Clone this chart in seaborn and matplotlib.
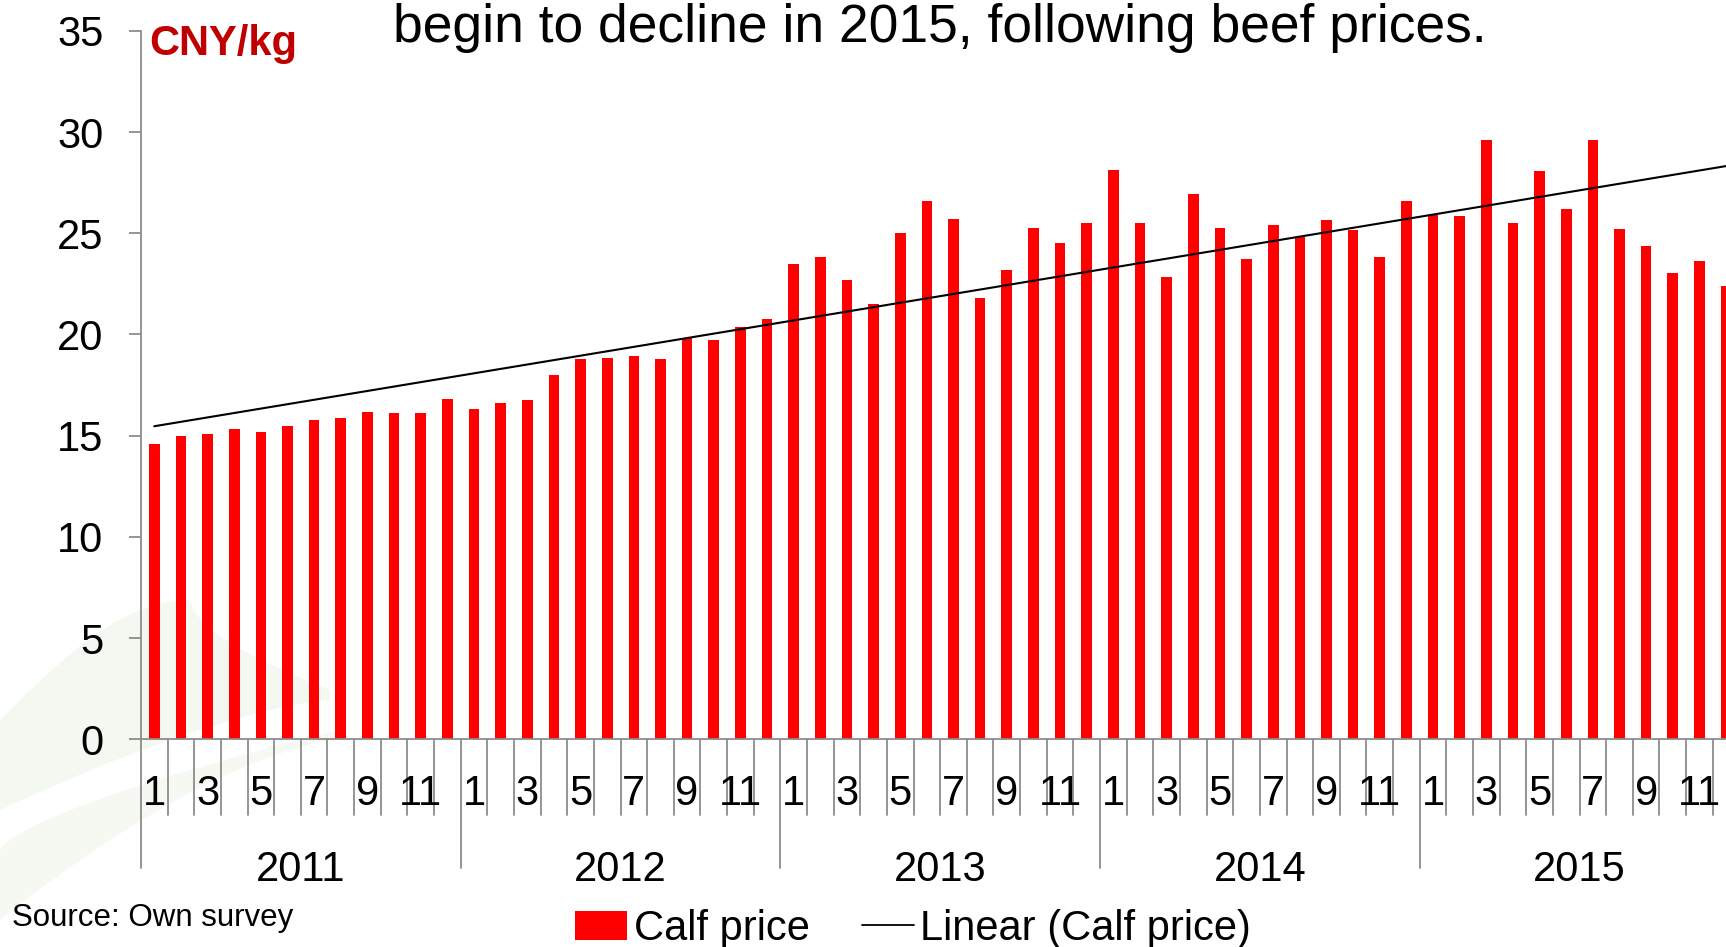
import matplotlib
matplotlib.use("Agg")
import matplotlib.pyplot as plt
import matplotlib.transforms as mtransforms
from matplotlib.lines import Line2D
from matplotlib.patches import Patch
import numpy as np
import pandas as pd
import seaborn as sns

years = ["2011", "2012", "2013", "2014", "2015"]
months = list(range(1, 13))
prices_2011 = [14.6, 15.0, 15.1, 15.35, 15.2, 15.5, 15.75, 15.85, 16.15, 16.1, 16.1, 16.8]
prices_2012 = [16.3, 16.6, 16.75, 18.0, 18.8, 18.85, 18.95, 18.8, 19.8, 19.75, 20.35, 20.75]
prices_2013 = [23.5, 23.85, 22.7, 21.5, 25.0, 26.6, 25.7, 21.8, 23.2, 25.25, 24.5, 25.5]
prices_2014 = [28.1, 25.5, 22.85, 26.95, 25.25, 23.75, 25.4, 24.8, 25.65, 25.15, 23.85, 26.6]
prices_2015 = [25.9, 25.85, 29.6, 25.5, 28.05, 26.2, 29.6, 25.2, 24.35, 23.05, 23.65, 22.4]
title_text = "begin to decline in 2015, following beef prices."
unit_text = "CNY/kg"
source_text = "Source: Own survey"

sns.set_style("white")
plt.rcParams["font.family"] = ["Liberation Sans", "DejaVu Sans"]
plt.rcParams["text.color"] = "black"
plt.rcParams["ytick.color"] = "black"

all_prices = prices_2011 + prices_2012 + prices_2013 + prices_2014 + prices_2015
df = pd.DataFrame({
    "period": [f"{y}-{m}" for y in years for m in months],
    "month": [m for y in years for m in months],
    "price": all_prices,
})

W, H = 1726, 947
fig = plt.figure(figsize=(W / 100, H / 100), dpi=100)

# faint green swoosh in the slide background
bg = fig.add_axes([0, 0, 1, 1], zorder=-5)
bg.set_xlim(0, W)
bg.set_ylim(H, 0)
bg.axis("off")
t = np.linspace(0, 1, 50)
up1 = np.c_[190 * t, 720 - 120 * np.sin(t * np.pi / 2)]
up2 = np.c_[190 + 140 * t, 600 + 90 * t ** 0.6]
lo1 = np.c_[330 - 330 * t, 700 + 110 * t ** 1.4]
bg.fill(np.r_[up1[:, 0], up2[:, 0], lo1[:, 0]], np.r_[up1[:, 1], up2[:, 1], lo1[:, 1]],
        color="#f3f8f0", lw=0)
up3 = np.c_[340 * t, 850 - 120 * t ** 0.7]
lo3 = np.c_[340 - 340 * t, 740 + 180 * t ** 1.5]
bg.fill(np.r_[up3[:, 0], lo3[:, 0]], np.r_[up3[:, 1], lo3[:, 1]], color="#f5f9f2", lw=0)

ax = fig.add_axes([141 / W, (H - 739.3) / H, 60 * 26.64 / W, 708.5 / H])
ax.patch.set_alpha(0)

sns.barplot(data=df, x="period", y="price", color="#ff0000", saturation=1,
            width=0.4, linewidth=0, ax=ax)

idx = np.arange(len(df))
coef = np.polyfit(idx, df["price"], 1)
ax.plot(idx, np.polyval(coef, idx), color="black", lw=1.5, zorder=3)

ax.set_ylim(0, 35)
ax.set_xlim(-0.5, len(df) - 0.5)
ax.set_yticks(range(0, 36, 5))
ax.tick_params(axis="y", labelsize=30, length=9, width=1.3, color="#8c8c8c",
               labelcolor="black", pad=18, left=True)
ax.set_xticks([])
ax.set_xlabel("")
ax.set_ylabel("")
for s in ["top", "right"]:
    ax.spines[s].set_visible(False)
for s in ["left", "bottom"]:
    ax.spines[s].set_color("#8c8c8c")
    ax.spines[s].set_linewidth(1.3)

# multi-level category axis
trans = mtransforms.blended_transform_factory(ax.transData, ax.transAxes)
for b in range(len(df) + 1):
    is_year = b % 12 == 0
    ax.plot([b - 0.5, b - 0.5], [0, -0.182 if is_year else -0.1065], transform=trans,
            color="#8c8c8c", lw=1.3, clip_on=False)
for i, m in enumerate(df["month"]):
    if m % 2 == 1:
        ax.text(i, -0.077, str(m), transform=trans, ha="center", va="center", fontsize=30)
for k, y in enumerate(years):
    ax.text(12 * k + 5.5, -0.184, y, transform=trans, ha="center", va="center", fontsize=30)

fig.text(149 / W, (H - 44) / H, unit_text, color="#c00000", fontsize=30,
         fontweight="bold", va="center", ha="left")
fig.text(393 / W, (H - 42) / H, title_text, fontsize=38.4, va="baseline", ha="left")
fig.text(12 / W, (H - 918) / H, source_text, fontsize=22.5, va="center", ha="left")

handles = [Patch(facecolor="#ff0000", edgecolor="none"),
           Line2D([], [], color="black", lw=1.3)]
fig.legend(handles, ["Calf price", "Linear (Calf price)"], loc="center",
           bbox_to_anchor=(913 / W, (H - 929) / H), ncol=2, frameon=False, fontsize=30,
           handlelength=1.25, handletextpad=0.15, columnspacing=1.25, borderpad=0)

fig.savefig("out.png", dpi=100)
